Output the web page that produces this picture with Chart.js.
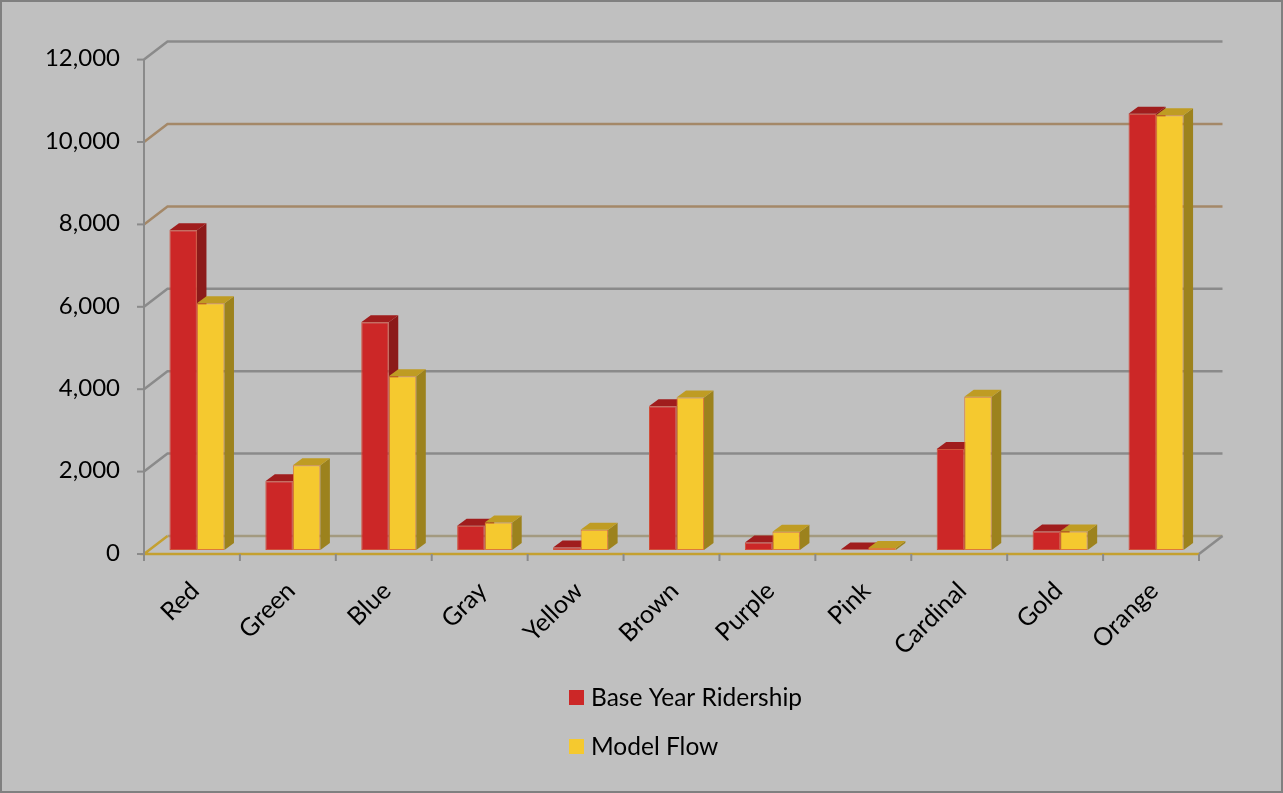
<!DOCTYPE html>
<html lang="en">
<head>
<meta charset="UTF-8">
<title>Base Year Ridership vs Model Flow</title>
<script src="https://cdn.jsdelivr.net/npm/chart.js"></script>
<style>
  html, body { margin: 0; padding: 0; background: #c0c0c0; }
  #wrap { width: 1283px; height: 793px; position: relative; }
</style>
</head>
<body>
<div id="wrap"><canvas id="chart"></canvas></div>
<script>
  // boardings per line
  const lines = ['Red', 'Green', 'Blue', 'Gray', 'Yellow', 'Brown', 'Purple', 'Pink', 'Cardinal', 'Gold', 'Orange'];
  const baseYear = [7760, 1670, 5530, 590, 60, 3490, 180, 10, 2450, 450, 10590];
  const modelFlow = [5990, 2060, 4220, 670, 490, 3700, 440, 50, 3720, 450, 10550];
  const yMax = 12000;
  const yStep = 2000;

  const FONT = 'Lato, "Open Sans", sans-serif';

  // 3D offsets relative to the plane the bars stand on
  const FRONT = { x: -5, y: 4 };     // front edge of floor / value axis
  const BACK = { x: 18.5, y: -14 };  // back wall
  const DEPTH = { x: 9.5, y: -7 };   // depth of each bar

  const faces = [
    { side: '#8c1a1a', top: '#a01d1d' },
    { side: '#9c821d', top: '#bf9c23' }
  ];

  function path(ctx, pts, fill) {
    ctx.beginPath();
    ctx.moveTo(pts[0][0], pts[0][1]);
    for (let i = 1; i < pts.length; i++) ctx.lineTo(pts[i][0], pts[i][1]);
    if (fill) { ctx.closePath(); ctx.fill(); } else ctx.stroke();
  }

  function drawFaces(chart, di) {
    const ctx = chart.ctx;
    const c = faces[di];
    chart.getDatasetMeta(di).data.forEach(bar => {
      const { x, y, base, width } = bar.getProps(['x', 'y', 'base', 'width'], true);
      const l = x - width / 2, r = x + width / 2;
      ctx.fillStyle = c.side;
      path(ctx, [[r, y], [r + DEPTH.x, y + DEPTH.y], [r + DEPTH.x, base + DEPTH.y], [r, base]], true);
      ctx.fillStyle = c.top;
      path(ctx, [[l, y], [l + DEPTH.x, y + DEPTH.y], [r + DEPTH.x, y + DEPTH.y], [r, y]], true);
    });
  }

  const box3d = {
    id: 'box3d',
    beforeDraw(chart) {
      const ctx = chart.ctx;
      ctx.save();
      ctx.fillStyle = '#c0c0c0';
      ctx.fillRect(0, 0, chart.width, chart.height);
      ctx.strokeStyle = '#808080';
      ctx.lineWidth = 2;
      ctx.strokeRect(1, 1, chart.width - 2, chart.height - 2);
      ctx.restore();
    },
    beforeDatasetsDraw(chart) {
      const { ctx, chartArea: a, scales: { x, y } } = chart;
      const fx = a.left + FRONT.x;
      const y0 = y.getPixelForValue(0);
      ctx.save();
      ctx.lineWidth = 2.5;

      // back wall gridlines with their slanted joins to the value axis
      y.ticks.forEach(t => {
        if (t.value === 0) return;
        const py = y.getPixelForValue(t.value);
        ctx.strokeStyle = (t.value === 10000 || t.value === 8000) ? '#a48868' : '#8a8a8a';
        path(ctx, [[fx, py + FRONT.y], [a.left + BACK.x, py + BACK.y], [a.right + BACK.x, py + BACK.y]]);
      });

      // floor
      ctx.strokeStyle = '#a39a80';
      path(ctx, [[a.left + BACK.x, y0 + BACK.y], [a.right + BACK.x, y0 + BACK.y]]);
      ctx.strokeStyle = '#8a8a8a';
      path(ctx, [[a.right + FRONT.x, y0 + FRONT.y], [a.right + BACK.x, y0 + BACK.y]]);
      ctx.strokeStyle = '#c4a030';
      path(ctx, [[a.left + BACK.x, y0 + BACK.y], [fx, y0 + FRONT.y], [a.right + FRONT.x, y0 + FRONT.y]]);

      // value axis line and tick marks
      ctx.strokeStyle = '#8a8a8a';
      ctx.lineWidth = 2;
      path(ctx, [[fx, y.getPixelForValue(yMax) + FRONT.y], [fx, y0 + FRONT.y + 7]]);
      y.ticks.forEach(t => {
        const py = y.getPixelForValue(t.value) + FRONT.y;
        path(ctx, [[fx - 7, py], [fx, py]]);
      });

      // category tick marks
      const cw = (a.right - a.left) / lines.length;
      for (let i = 0; i <= lines.length; i++) {
        const px = a.left + i * cw + FRONT.x;
        path(ctx, [[px, y0 + FRONT.y], [px, y0 + FRONT.y + 7]]);
      }

      // sides and tops of the first series sit behind the second series
      drawFaces(chart, 0);
      ctx.restore();
    },
    afterDatasetsDraw(chart) {
      chart.ctx.save();
      drawFaces(chart, 1);
      chart.ctx.restore();
    },
    afterDraw(chart) {
      // legend, one entry per row
      const ctx = chart.ctx;
      ctx.save();
      ctx.font = '24.5px ' + FONT;
      ctx.textBaseline = 'middle';
      ctx.textAlign = 'left';
      chart.data.datasets.forEach((ds, i) => {
        const cy = 697 + i * 49;
        ctx.fillStyle = ds.backgroundColor;
        ctx.fillRect(569, cy - 7, 15, 15);
        ctx.fillStyle = '#000';
        ctx.fillText(ds.label, 591, cy + 1);
      });
      ctx.restore();
    }
  };

  new Chart(document.getElementById('chart'), {
    type: 'bar',
    data: {
      labels: lines,
      datasets: [{
        label: 'Base Year Ridership',
        data: baseYear,
        backgroundColor: '#cc2727',
        borderColor: '#d0503a',
        borderWidth: 1,
        borderSkipped: false
      }, {
        label: 'Model Flow',
        data: modelFlow,
        backgroundColor: '#f5c92f',
        borderColor: '#dc7a3a',
        borderWidth: 1,
        borderSkipped: false
      }]
    },
    options: {
      responsive: true,
      maintainAspectRatio: false,
      animation: false,
      layout: { padding: { top: 55.6, right: 79, left: 0, bottom: 0 } },
      datasets: { bar: { categoryPercentage: 0.574, barPercentage: 1 } },
      plugins: {
        legend: { display: false },
        title: { display: false },
        tooltip: { enabled: false }
      },
      scales: {
        x: {
          ticks: {
            color: '#000',
            font: { family: FONT, size: 25 },
            minRotation: 45,
            maxRotation: 45,
            autoSkip: false,
            padding: 26,
            labelOffset: -2
          },
          grid: { display: false, drawTicks: false },
          border: { display: false },
          afterFit(s) { s.height = 243; }
        },
        y: {
          min: 0,
          max: yMax,
          ticks: {
            stepSize: yStep,
            color: '#000',
            font: { family: FONT, size: 24 },
            padding: 29,
            labelOffset: 3
          },
          grid: { display: false, drawTicks: false },
          border: { display: false },
          afterFit(s) { s.width = 149; }
        }
      }
    },
    plugins: [box3d]
  });
</script>
</body>
</html>
